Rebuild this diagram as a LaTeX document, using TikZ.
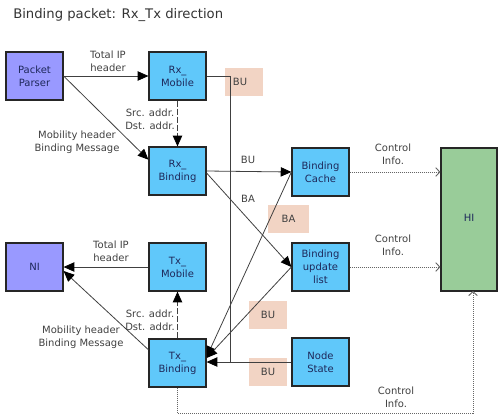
\documentclass[tikz,border=0pt]{standalone}
\usepackage{fontspec}
\setmainfont{DejaVu Sans}
\usetikzlibrary{arrows.meta,calc}
\definecolor{boxblue}{RGB}{96,200,250}
\definecolor{boxviolet}{RGB}{153,153,255}
\definecolor{boxgreen}{RGB}{153,204,153}
\definecolor{tagpeach}{RGB}{242,212,196}
\definecolor{navy}{RGB}{30,40,90}
\definecolor{linegray}{RGB}{64,64,64}
\tikzset{
  x=0.75pt, y=-0.75pt,
  every node/.style={font=\fontsize{7.5}{9.75}\selectfont, inner sep=0pt, align=center},
  blk/.style={draw=black!85, line width=0.9pt, minimum width=42.75pt, minimum height=36pt, text=navy},
  bluebox/.style={blk, fill=boxblue},
  violetbox/.style={blk, fill=boxviolet},
  tagbox/.style={fill=tagpeach, minimum width=28.5pt, minimum height=21pt, text=black!75},
  lbl/.style={text=linegray},
  conn/.style={draw=linegray, line width=0.6pt},
  arr/.style={conn, -{Triangle[length=8pt,width=7pt,color=black]}},
  darr/.style={arr, dash pattern=on 4.5pt off 1.5pt},
  dotarr/.style={draw=gray!80!black, line width=0.7pt, dash pattern=on 0.75pt off 0.75pt, -{Straight Barb[length=3pt,width=6.5pt]}}
}
\begin{document}
\begin{tikzpicture}
\useasboundingbox (0,0) rectangle (499,418);
% title
\node[anchor=west, font=\fontsize{9.9}{12}\selectfont, text=black!80] (title) at (13,15) {Binding packet: Rx\_Tx direction};
% tag boxes (background)
\node[tagbox, minimum width=28.5pt] (tag1) at (244,81.5) {\hspace*{-6pt}BU};
\node[tagbox, minimum width=30.75pt] (tag2) at (288.5,219) {BA};
\node[tagbox] (tag3) at (268,314.5) {BU};
\node[tagbox] (tag4) at (268,371.5) {BU};
% blocks
\node[violetbox] (PP) at (34.5,76) {Packet\\Parser};
\node[bluebox] (RxM) at (177.5,76) {Rx\_\\Mobile};
\node[bluebox] (RxB) at (177.5,171) {Rx\_\\Binding};
\node[violetbox] (NI) at (34.5,267) {NI};
\node[bluebox] (TxM) at (177.5,267) {Tx\_\\Mobile};
\node[bluebox] (TxB) at (177.5,363) {Tx\_\\Binding};
\node[bluebox] (BC) at (320.5,172) {Binding\\Cache};
\node[bluebox] (BUL) at (320.5,267) {Binding\\update\\list};
\node[bluebox] (NS) at (320.5,362) {Node\\State};
\node[blk, fill=boxgreen, minimum width=42pt, minimum height=107.25pt] (HI) at (469,219.5) {};
\node[text=navy] (HIt) at (469,218) {HI};
% junction coordinates
\coordinate (j1) at (230,76);
\coordinate (j2) at (230,362);
\coordinate (rbin) at ($(RxB.north west)!0.27!(RxB.south west)$);
\coordinate (nin) at ($(NI.east)+(0,4)$);
\coordinate (tbout) at ($(TxB.north west)!0.23!(TxB.south west)$);
\coordinate (tbin) at ($(TxB.east)+(0,-6)$);
\coordinate (b1) at (177.5,413);
\coordinate (b2) at (473,413);
\coordinate (hib) at (473,291);
% connectors
\draw[arr] (PP.east) -- (RxM.west);
\draw[arr] (PP.east) -- (rbin);
\draw[darr] (RxM.south) -- (RxB.north);
\draw[conn] (RxM.east) -- (j1) -- (j2);
\draw[arr] (RxB.east) -- (BC.west);
\draw[arr] ($(RxB.east)+(0,2)$) -- (BUL.west);
\draw[arr] (BC.west) -- (tbin);
\draw[arr] (BUL.west) -- ($(TxB.east)+(0,-5)$);
\draw[arr] (NS.west) -- (TxB.east |- NS.west);
\draw[arr] (TxM.west) -- (NI.east);
\draw[arr] (tbout) -- (nin);
\draw[darr] (TxB.north) -- (TxM.south);
\draw[dotarr] (BC.east) -- (BC.east -| HI.west);
\draw[dotarr] (BUL.east) -- (BUL.east -| HI.west);
\draw[dotarr] (TxB.south) -- (b1) -- (b2) -- (hib);
% labels
\node[lbl] (l1) at (108,61) {Total IP\\header};
\node[lbl, anchor=east] (l2) at (175,119) {Src. addr.\\Dst. addr.};
\node[lbl] (l3) at (77,142) {Mobility header\\Binding Message};
\node[lbl] (l4) at (248,160) {BU};
\node[lbl] (l5) at (248,199) {BA};
\node[lbl] (l6) at (111,251) {Total IP\\header};
\node[lbl, anchor=east] (l7) at (175,320.5) {Src. addr.\\Dst. addr.};
\node[lbl] (l8) at (81,337.5) {Mobility header\\Binding Message};
\node[lbl] (l9) at (393,154.5) {Control\\Info.};
\node[lbl] (l10) at (393,245) {Control\\Info.};
\node[lbl] (l11) at (396,397.5) {Control\\Info.};
\end{tikzpicture}
\end{document}
